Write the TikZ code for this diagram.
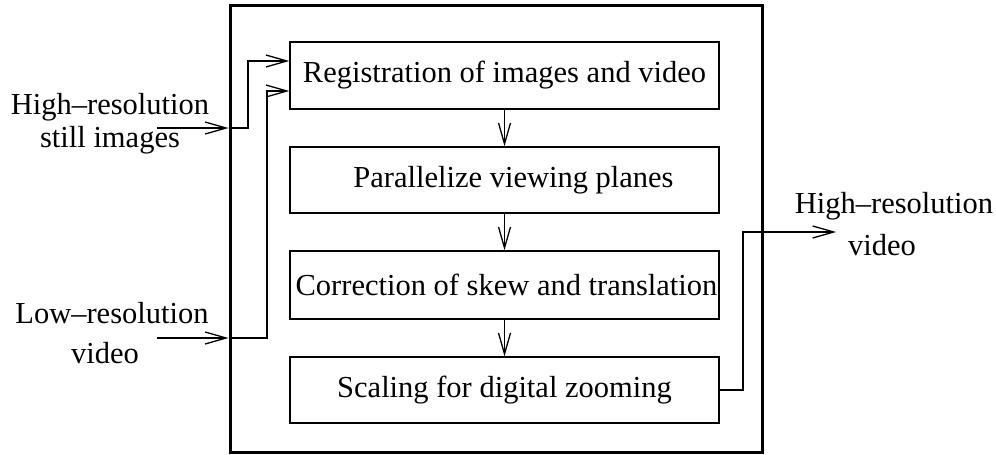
\documentclass[tikz,border=0pt]{standalone}
\usepackage{fontspec}
\setmainfont{Liberation Serif}
\usetikzlibrary{arrows.meta}
\begin{document}
\begin{tikzpicture}[x=1pt,y=-1pt,
  every node/.style={font=\fontsize{30.5}{36}\selectfont},
  procbox/.style={draw,line width=1.3pt,inner sep=0pt,minimum width=429pt,minimum height=67pt},
  outerbox/.style={draw,line width=3pt,inner sep=0pt,minimum width=532pt,minimum height=447pt},
  conn/.style={line width=1.3pt},
  arr/.style={conn,-{Straight Barb[length=21pt,width=12pt,line width=1.3pt]}},
  lbl/.style={anchor=base,inner sep=0pt}]
\path[use as bounding box] (0,0) rectangle (996,455);

\node[outerbox] (outer) at (496,228.5) {};
\node[procbox] (b1) at (504.5,75.5) {Registration of images and video};
\node[procbox,minimum height=66pt] (b2) at (504.5,180) {\hspace*{18pt}Parallelize viewing planes};
\node[procbox,minimum height=68pt] (b3) at (504.5,285) {\hspace*{4pt}Correction of skew and translation};
\node[procbox,minimum height=66pt] (b4) at (504.5,390) {Scaling for digital zooming};

\draw[arr] (b1) -- (b2);
\draw[arr] (b2) -- (b3);
\draw[arr] (b3) -- (b4);

% labels
\node[lbl] (l1a) at (110,114) {High--resolution};
\node[lbl] (l1b) at (110,147) {still images};
\node[lbl] (l2a) at (112,323) {Low--resolution};
\node[lbl] (l2b) at (105,363) {video};
\node[lbl] (r1a) at (894,213) {High--resolution};
\node[lbl] (r1b) at (882,255) {video};

\coordinate (in1) at (157,128);
\coordinate (j1) at (248,61);
\coordinate (in2) at (157,338);
\coordinate (j2) at (267,91);
\coordinate (jo) at (743,232);
\coordinate (out) at (836,232);

\draw[arr] (in1) -- (in1 -| outer.west);
\draw[arr] (in1 -| outer.west) -| (j1) -- (j1 -| b1.west);
\draw[arr] (in2) -- (in2 -| outer.west);
\draw[arr] (in2 -| outer.west) -| (j2) -- (j2 -| b1.west);
\draw[arr] (b4.east) -| (jo) -- (out);
\end{tikzpicture}
\end{document}
